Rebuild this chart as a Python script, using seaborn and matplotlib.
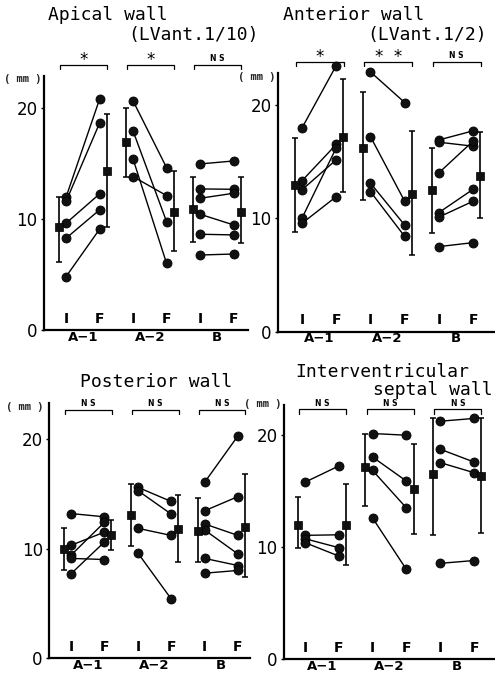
import matplotlib
matplotlib.use("Agg")
import matplotlib.pyplot as plt
import matplotlib.transforms as mtransforms
import numpy as np
import pandas as pd
import seaborn as sns

# ---------------- data (mm) ----------------
groups = ["A−1", "A−2", "B"]
phases = ["I", "F"]

# Apical wall (LVant.1/10)
apical_initial = [[11.98, 11.6, 9.64, 8.29, 4.83],
                  [20.66, 17.95, 15.43, 13.84],
                  [14.98, 12.73, 11.89, 10.45, 8.65, 6.78]]
apical_final = [[20.8, 18.65, 12.28, 10.84, 9.1],
                [14.65, 9.79, 6.03, 12.13],
                [15.25, 12.7, 12.34, 9.49, 8.59, 6.87]]
apical_mean_initial = [9.33, 16.93, 10.93]
apical_low_initial = [6.18, 13.84, 7.98]
apical_high_initial = [12.04, 20.0, 13.78]
apical_mean_final = [14.38, 10.69, 10.69]
apical_low_final = [9.28, 7.17, 7.84]
apical_high_final = [19.5, 14.35, 13.84]
apical_sig = ["*", "*", "NS"]

# Anterior wall (LVant.1/2)
anterior_initial = [[17.95, 13.3, 12.5, 10.0, 9.55],
                    [22.9, 17.2, 13.1, 12.35],
                    [16.9, 16.7, 14.0, 10.5, 10.1, 7.5]]
anterior_final = [[23.45, 16.5, 15.15, 16.2, 11.9],
                  [20.2, 11.5, 9.4, 8.4],
                  [17.7, 16.35, 16.8, 12.55, 11.5, 7.85]]
anterior_mean_initial = [12.95, 16.2, 12.45]
anterior_low_initial = [8.83, 11.6, 8.7]
anterior_high_initial = [17.07, 21.1, 16.2]
anterior_mean_final = [17.15, 12.15, 13.7]
anterior_low_final = [12.3, 6.8, 10.0]
anterior_high_final = [22.3, 17.7, 17.6]
anterior_sig = ["*", "*  *", "NS"]

# Posterior wall
posterior_initial = [[13.2, 10.3, 9.4, 9.1, 7.7],
                     [15.6, 15.3, 11.85, 9.6],
                     [16.05, 13.45, 12.25, 11.7, 9.1, 7.75]]
posterior_final = [[12.9, 11.5, 12.4, 9.0, 10.6],
                   [14.3, 13.15, 11.2, 5.4],
                   [20.3, 14.75, 11.2, 9.5, 8.45, 8.0]]
posterior_mean_initial = [9.95, 13.05, 11.6]
posterior_low_initial = [8.0, 10.25, 8.8]
posterior_high_initial = [11.9, 15.9, 14.6]
posterior_mean_final = [11.2, 11.8, 11.95]
posterior_low_final = [9.9, 8.8, 7.4]
posterior_high_final = [12.6, 14.9, 16.8]
posterior_sig = ["NS", "NS", "NS"]

# Interventricular septal wall
septal_initial = [[15.8, 11.05, 10.75, 10.4],
                  [20.15, 18.05, 16.85, 12.6],
                  [21.25, 18.75, 17.55, 8.55]]
septal_final = [[17.25, 11.1, 9.95, 9.2],
                [20.0, 15.9, 13.5, 8.0],
                [21.5, 17.6, 16.65, 8.8]]
septal_mean_initial = [12.0, 17.15, 16.5]
septal_low_initial = [9.9, 13.7, 11.1]
septal_high_initial = [14.5, 20.15, 21.55]
septal_mean_final = [12.0, 15.2, 16.35]
septal_low_final = [8.4, 11.2, 11.3]
septal_high_final = [15.6, 19.25, 21.5]
septal_sig = ["NS", "NS", "NS"]

# ---------------- assemble ----------------
panels = {
    "apical": (apical_initial, apical_final, apical_mean_initial, apical_low_initial,
               apical_high_initial, apical_mean_final, apical_low_final, apical_high_final, apical_sig),
    "anterior": (anterior_initial, anterior_final, anterior_mean_initial, anterior_low_initial,
                 anterior_high_initial, anterior_mean_final, anterior_low_final, anterior_high_final, anterior_sig),
    "posterior": (posterior_initial, posterior_final, posterior_mean_initial, posterior_low_initial,
                  posterior_high_initial, posterior_mean_final, posterior_low_final, posterior_high_final, posterior_sig),
    "septal": (septal_initial, septal_final, septal_mean_initial, septal_low_initial,
               septal_high_initial, septal_mean_final, septal_low_final, septal_high_final, septal_sig),
}

W, H = 495, 674


def px_rect(left, top, right, bottom):
    return [left / W, 1 - bottom / H, (right - left) / W, (bottom - top) / H]


layout = {
    "apical": dict(rect=px_rect(44, 76, 248, 330.3), xlim=(-0.657, 5.43), ytop=22.9,
                   by=23.9, tick=0.36, mm=(41, 79)),
    "anterior": dict(rect=px_rect(278, 73, 495, 331.7), xlim=(-0.70, 5.64), ytop=22.8,
                     by=23.8, tick=0.36, mm=(276, 77)),
    "posterior": dict(rect=px_rect(49, 403, 250, 658), xlim=(-0.66, 5.36), ytop=23.3,
                      by=22.65, tick=0.36, mm=(43, 407)),
    "septal": dict(rect=px_rect(284, 405, 495, 659), xlim=(-0.62, 5.62), ytop=22.7,
                   by=22.3, tick=0.36, mm=(281, 404)),
}

sns.set_theme(style="ticks")
plt.rcParams["font.family"] = ["DejaVu Sans"]

fig = plt.figure(figsize=(W / 100, H / 100), dpi=100)
fig.patch.set_facecolor("white")

for name, (ini, fin, mi, li, hi, mf, lf, hf, sig) in panels.items():
    L = layout[name]
    ax = fig.add_axes(L["rect"])
    ax.set_facecolor("white")

    rows = []
    for g, (a, b) in enumerate(zip(ini, fin)):
        for k, (v0, v1) in enumerate(zip(a, b)):
            rows.append(dict(pair=f"{g}-{k}", x=2 * g, value=v0))
            rows.append(dict(pair=f"{g}-{k}", x=2 * g + 1, value=v1))
    df = pd.DataFrame(rows)

    sns.lineplot(data=df, x="x", y="value", units="pair", estimator=None,
                 color="black", lw=1.0, legend=False, ax=ax, clip_on=False, zorder=2)
    sns.scatterplot(data=df, x="x", y="value", color="#111111", edgecolor="black",
                    linewidth=0.6, s=42, legend=False, ax=ax, clip_on=False, zorder=3)

    mrows = []
    for g in range(3):
        mrows.append(dict(x=2 * g - 0.21, m=mi[g], lo=li[g], hi=hi[g]))
        mrows.append(dict(x=2 * g + 1 + 0.21, m=mf[g], lo=lf[g], hi=hf[g]))
    mdf = pd.DataFrame(mrows)
    ax.errorbar(mdf["x"], mdf["m"], yerr=[mdf["m"] - mdf["lo"], mdf["hi"] - mdf["m"]],
                fmt="none", ecolor="black", elinewidth=1.2, capsize=2.2, capthick=1.1,
                zorder=2, clip_on=False)
    sns.scatterplot(data=mdf, x="x", y="m", marker="s", color="#111111", edgecolor="black",
                    linewidth=0.5, s=26, legend=False, ax=ax, clip_on=False, zorder=4)

    ax.set_xlim(*L["xlim"])
    ax.set_ylim(0, L["ytop"])
    ax.set_xlabel("")
    ax.set_ylabel("")
    ax.set_xticks([0.5, 2.5, 4.5])
    ax.set_xticklabels(groups, fontsize=9.5, fontweight="bold")
    ax.set_yticks([0, 10, 20])
    ax.set_yticklabels(["0", "10", "20"], fontsize=12)
    ax.tick_params(axis="x", length=0, pad=0.5, colors="black")
    ax.tick_params(axis="y", length=2.5, width=1, pad=2, colors="black")
    sns.despine(ax=ax)
    for sp in ("left", "bottom"):
        ax.spines[sp].set_linewidth(1.6)
        ax.spines[sp].set_color("black")

    trans = mtransforms.blended_transform_factory(ax.transData, ax.transAxes)
    for i in range(6):
        ax.text(i, 0.045, phases[i % 2], transform=trans, ha="center", va="center",
                fontsize=10, fontweight="bold", color="black")

    by, tk = L["by"], L["tick"]
    for g in range(3):
        x0, x1 = 2 * g - 0.18, 2 * g + 1.22
        ax.plot([x0, x0, x1, x1], [by - tk, by, by, by - tk], color="black", lw=0.9,
                clip_on=False)
        if sig[g] == "NS":
            ax.text((x0 + x1) / 2, by + 0.15, "N S", ha="center", va="bottom", fontsize=5.5,
                    fontweight="bold", color="black", clip_on=False)
        else:
            ax.text((x0 + x1) / 2, by - 0.35, sig[g], ha="center", va="bottom", fontsize=12,
                    color="black", clip_on=False)

    mx, my = L["mm"]
    fig.text(mx / W, 1 - my / H, "( mm )", ha="right", va="center", fontsize=7.5,
             fontweight="bold", family="DejaVu Sans Mono")

title_font = dict(family="DejaVu Sans Mono", fontsize=13, va="center", ha="left", color="black")
titles = [("Apical wall", 48, 15), ("(LVant.1/10)", 128, 35),
          ("Anterior wall", 283, 15), ("(LVant.1/2)", 367, 35),
          ("Posterior wall", 80, 382),
          ("Interventricular", 295, 372), ("septal wall", 373, 390)]
for txt, x, y in titles:
    fig.text(x / W, 1 - y / H, txt, **title_font)

fig.savefig("out.png", dpi=100, facecolor="white")
